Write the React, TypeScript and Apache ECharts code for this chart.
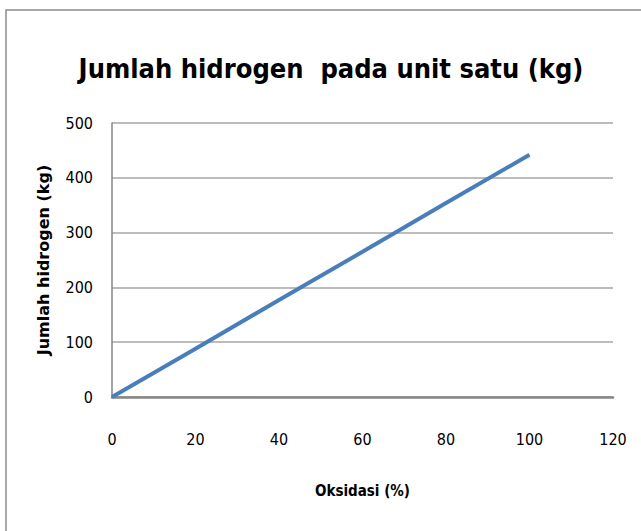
import React, { useEffect, useRef } from "react";
import * as echarts from "echarts";

const titleText = "Jumlah hidrogen  pada unit satu (kg)";
const xName = "Oksidasi (%)";
const yName = "Jumlah hidrogen (kg)";
const oksidasi = [0, 20, 40, 60, 80, 100];
const hidrogen = [0, 88, 177, 265, 354, 442];

const FONT = "'DejaVu Sans Condensed', 'Liberation Sans', Arial, sans-serif";

export default function App() {
  const ref = useRef<HTMLDivElement>(null);
  useEffect(() => {
    if (!ref.current) return;
    const chart = echarts.init(ref.current, null, { renderer: "svg" });
    chart.setOption({
      animation: false,
      backgroundColor: "#ffffff",
      title: {
        text: titleText,
        left: 326,
        top: 50,
        textAlign: "center",
        textStyle: { fontFamily: FONT, fontSize: 27, fontWeight: "bold", color: "#000000" },
      },
      graphic: [
        {
          type: "rect",
          shape: { x: 6, y: 10, width: 800, height: 700 },
          style: { fill: "none", stroke: "#8c8c8c", lineWidth: 1.5 },
          silent: true,
        },
      ],
      grid: { left: 112, top: 123, right: 28, bottom: 134 },
      xAxis: {
        type: "value",
        min: 0,
        max: 120,
        interval: 20,
        name: xName,
        nameLocation: "middle",
        nameGap: 86,
        nameTextStyle: { fontFamily: FONT, fontSize: 15, fontWeight: "bold", color: "#000" },
        axisLine: { show: true, lineStyle: { color: "#868686", width: 2.5 } },
        axisTick: { show: false },
        splitLine: { show: false },
        axisLabel: { fontFamily: FONT, fontSize: 16, color: "#000", margin: 34 },
      },
      yAxis: {
        type: "value",
        min: 0,
        max: 500,
        interval: 100,
        name: yName,
        nameLocation: "middle",
        nameGap: 61,
        nameTextStyle: { fontFamily: "'DejaVu Sans', Verdana, sans-serif", fontSize: 16, fontWeight: "bold", color: "#000" },
        axisLine: { show: true, lineStyle: { color: "#868686", width: 1.5 } },
        axisTick: { show: false },
        splitLine: { show: true, lineStyle: { color: "#a6a6a6", width: 1.5 } },
        axisLabel: { fontFamily: FONT, fontSize: 16, color: "#000", margin: 19 },
      },
      series: [
        {
          type: "line",
          data: oksidasi.map((x, i) => [x, hidrogen[i]]),
          showSymbol: false,
          symbol: "none",
          lineStyle: { color: "#4a7ebb", width: 4 },
        },
      ],
    });
    return () => chart.dispose();
  }, []);
  return (
    <div
      ref={ref}
      style={{ position: "fixed", left: 0, top: 0, width: 641, height: 531 }}
    />
  );
}
